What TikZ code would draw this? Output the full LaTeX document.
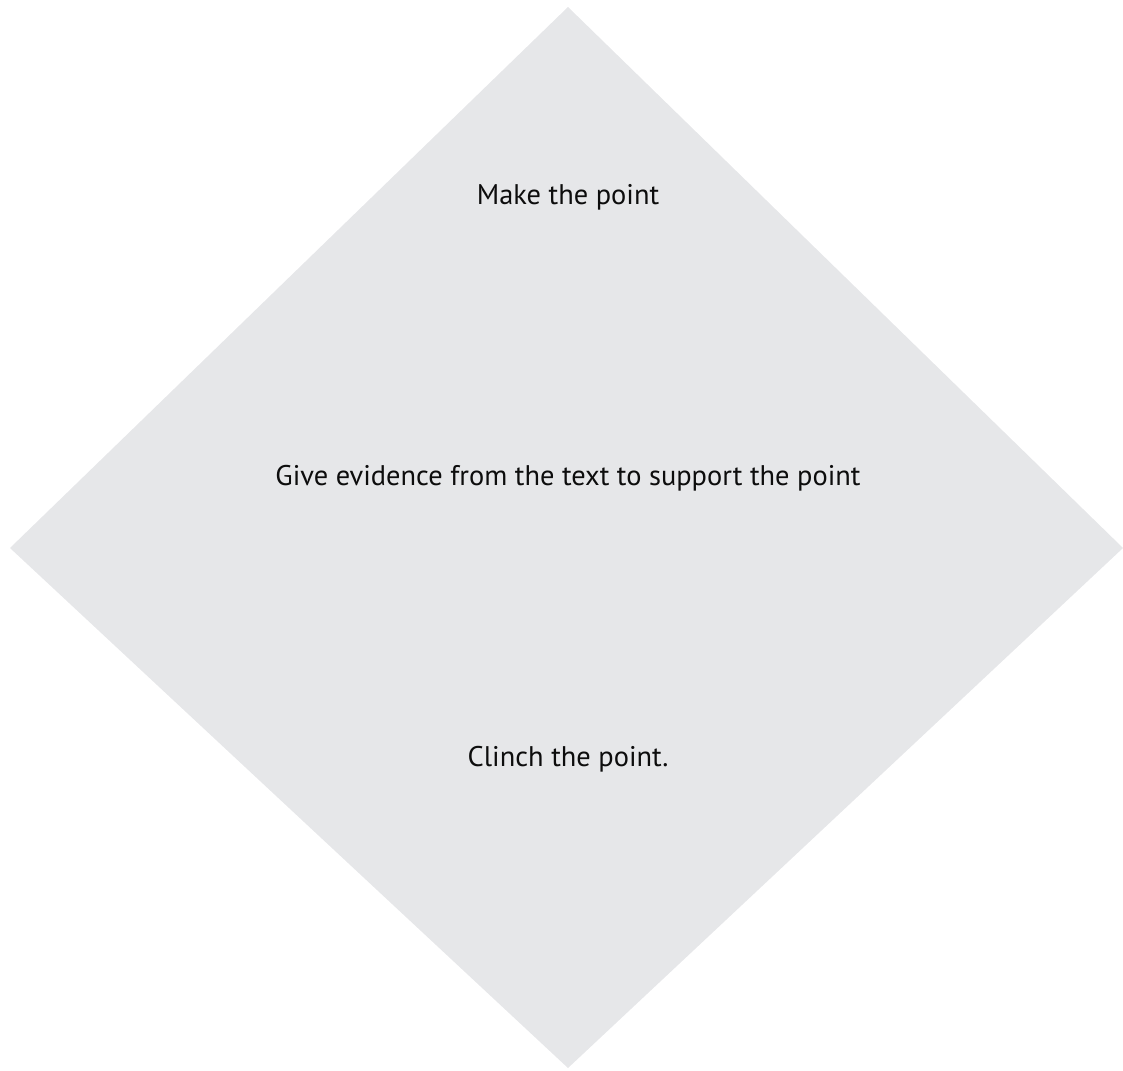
\documentclass[tikz,border=0pt]{standalone}
\usepackage{fontspec}
\setmainfont{PT Sans}
\definecolor{diamondgray}{RGB}{230,231,233}
\tikzset{
  steptext/.style={font=\fontsize{28.4}{34}\selectfont, text=black!95, anchor=center}
}
\begin{document}
\begin{tikzpicture}[x=1pt,y=-1pt]
  \useasboundingbox (0,0) rectangle (1123,1070);
  \coordinate (top) at (568,7);
  \coordinate (left) at (10,548);
  \coordinate (right) at (1123,548);
  \coordinate (bottom) at (568,1068);
  \fill[diamondgray] (top) -- (right) -- (bottom) -- (left) -- cycle;
  \node[steptext] (point) at (568,197) {Make the point};
  \node[steptext] (evidence) at (568,478) {Give evidence from the text to support the point};
  \node[steptext] (clinch) at (568,759) {Clinch the point.};
\end{tikzpicture}
\end{document}
